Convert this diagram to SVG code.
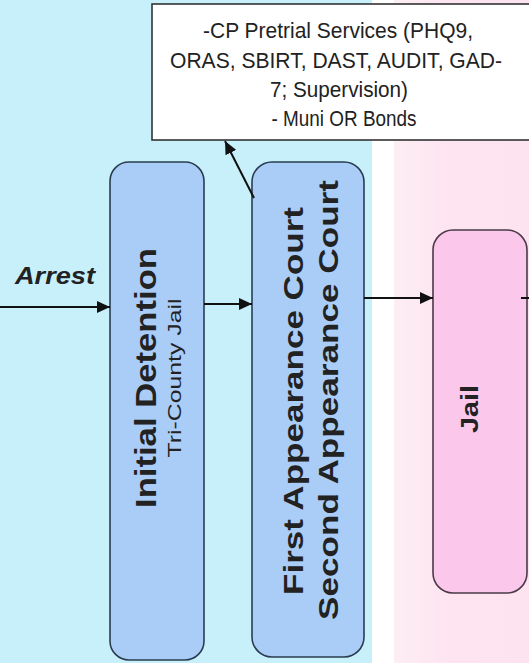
<svg xmlns="http://www.w3.org/2000/svg" width="529" height="663" viewBox="0 0 529 663">
<defs>
<linearGradient id="pinkGrad" x1="0" y1="0" x2="1" y2="0">
<stop offset="0" stop-color="#fdeef5"/>
<stop offset="0.4" stop-color="#fde4f0"/>
<stop offset="1" stop-color="#fde3ef"/>
</linearGradient>
<marker id="arrow" markerUnits="userSpaceOnUse" markerWidth="13" markerHeight="12" refX="13" refY="6" orient="auto">
<path d="M0,0 L13,6 L0,12 z" fill="#111"/>
</marker>
<style>
.conn{stroke:#111;stroke-width:2;fill:none}
.blue{fill:#aacdf7;stroke:#2b3c50;stroke-width:1.6}
.pink{fill:#fbc8ec;stroke:#4a3a48;stroke-width:1.6}
.bold{font-family:"Liberation Sans",Arial,sans-serif;font-weight:bold;fill:#222;text-anchor:middle}
.reg{font-family:"Liberation Sans",Arial,sans-serif;fill:#222;text-anchor:middle}
</style>
</defs>
<g id="background">
<rect x="0" y="0" width="529" height="663" fill="#ffffff"/>
<rect x="0" y="0" width="372" height="663" fill="#c8f0fb"/>
<rect x="394" y="0" width="135" height="663" fill="url(#pinkGrad)"/>
</g>
<g id="note">
<rect x="152" y="4" width="378" height="136" fill="#ffffff" stroke="#333" stroke-width="1.6"/>
<text class="reg" font-size="22" x="338" y="38" textLength="270" lengthAdjust="spacingAndGlyphs">-CP Pretrial Services (PHQ9,</text>
<text class="reg" font-size="22" x="336" y="68" textLength="332" lengthAdjust="spacingAndGlyphs">ORAS, SBIRT, DAST, AUDIT, GAD-</text>
<text class="reg" font-size="22" x="339" y="97" textLength="138" lengthAdjust="spacingAndGlyphs">7; Supervision)</text>
<text class="reg" font-size="22" x="344" y="126" textLength="145" lengthAdjust="spacingAndGlyphs">- Muni OR Bonds</text>
</g>
<g id="arrest-label">
<text x="15" y="284" font-family="'Liberation Sans',Arial,sans-serif" font-weight="bold" font-style="italic" font-size="24" fill="#222" textLength="80" lengthAdjust="spacingAndGlyphs">Arrest</text>
</g>
<g id="initial-detention">
<rect class="blue" x="110" y="162" width="94" height="498" rx="19" ry="19"/>
<text class="bold" font-size="30" transform="translate(156,378) rotate(-90)" textLength="260" lengthAdjust="spacingAndGlyphs">Initial Detention</text>
<text class="reg" font-size="19" transform="translate(181,378) rotate(-90)" textLength="159" lengthAdjust="spacingAndGlyphs">Tri-County Jail</text>
</g>
<g id="appearance-court">
<rect class="blue" x="252" y="162" width="112" height="495" rx="20" ry="20"/>
<text class="bold" font-size="28" transform="translate(303,401) rotate(-90)" textLength="388" lengthAdjust="spacingAndGlyphs">First Appearance Court</text>
<text class="bold" font-size="28" transform="translate(338,400) rotate(-90)" textLength="440" lengthAdjust="spacingAndGlyphs">Second Appearance Court</text>
</g>
<g id="jail">
<rect class="pink" x="433" y="230" width="94" height="363" rx="20" ry="20"/>
<text class="bold" font-size="23" transform="translate(478,409) rotate(-90)" textLength="48" lengthAdjust="spacingAndGlyphs">Jail</text>
</g>
<g id="connectors">
<line class="conn" x1="0" y1="307" x2="110" y2="307" marker-end="url(#arrow)"/>
<line class="conn" x1="204" y1="304" x2="252" y2="304" marker-end="url(#arrow)"/>
<line class="conn" x1="364" y1="298" x2="433" y2="298" marker-end="url(#arrow)"/>
<line class="conn" x1="254" y1="198" x2="225" y2="141" marker-end="url(#arrow)"/>
<line class="conn" x1="521" y1="298" x2="529" y2="298"/>
</g>
</svg>
